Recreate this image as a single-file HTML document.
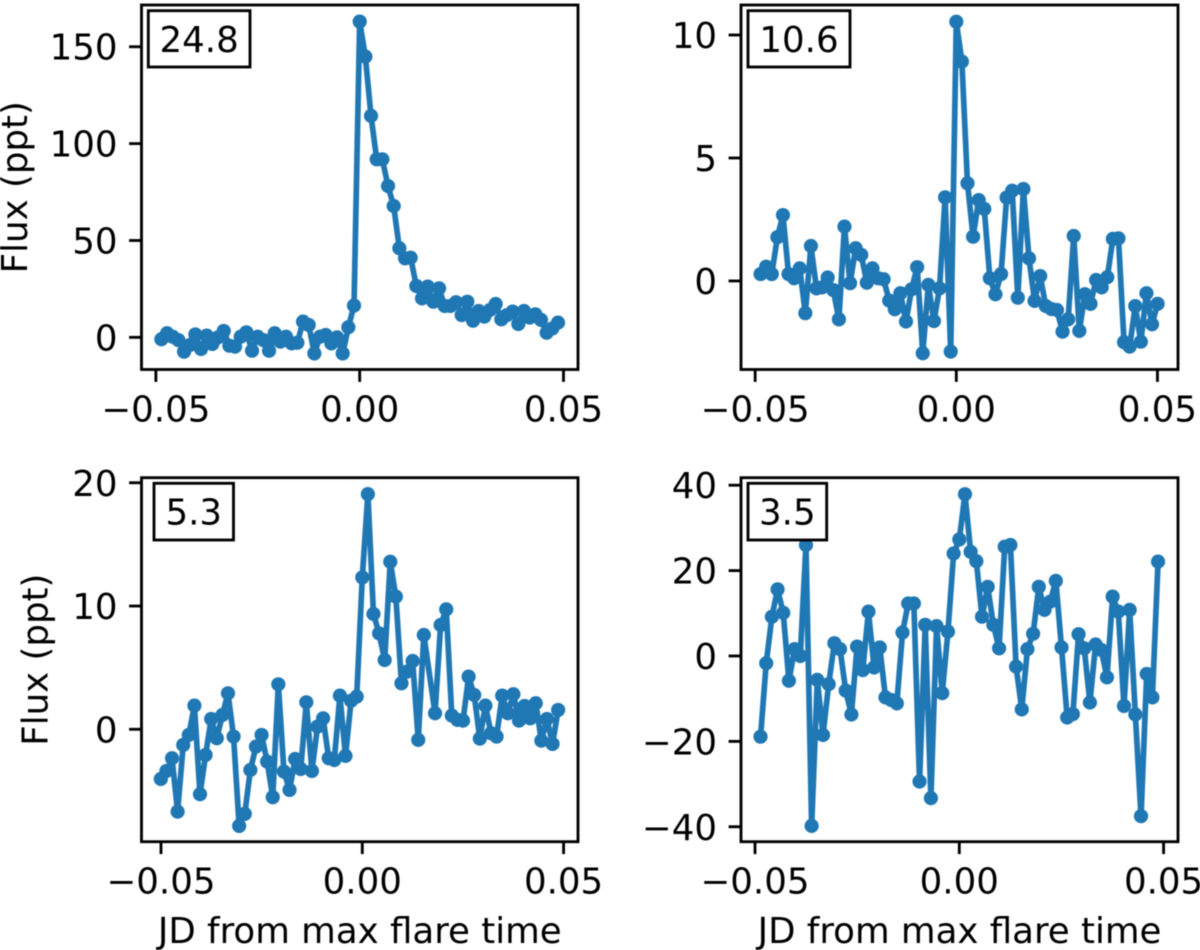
<!DOCTYPE html>
<html>
<head>
<meta charset="utf-8">
<title>Flare light curves</title>
<style>
html,body{margin:0;padding:0;background:#fff;}
svg{display:block;filter:blur(0.45px);}
text{font-family:"DejaVu Sans","Liberation Sans",sans-serif;font-size:35.6px;fill:#000;}
</style>
</head>
<body>
<svg id="figure" xmlns="http://www.w3.org/2000/svg" width="1200" height="950" viewBox="0 0 1200 950"></svg>
<script>
const timesA = [-0.04865,-0.04726,-0.04587,-0.04448,-0.04309,-0.0417,-0.04031,-0.03892,-0.03753,-0.03614,-0.03475,-0.03336,-0.03197,-0.03058,-0.02919,-0.0278,-0.02641,-0.02502,-0.02363,-0.02224,-0.02085,-0.01946,-0.01807,-0.01668,-0.01529,-0.0139,-0.01251,-0.01112,-0.00973,-0.00834,-0.00695,-0.00556,-0.00417,-0.00278,-0.00139,0,0.00139,0.00278,0.00417,0.00556,0.00695,0.00834,0.00973,0.01112,0.01251,0.0139,0.01529,0.01668,0.01807,0.01946,0.02085,0.02224,0.02363,0.02502,0.02641,0.0278,0.02919,0.03058,0.03197,0.03336,0.03475,0.03614,0.03753,0.03892,0.04031,0.0417,0.04309,0.04448,0.04587,0.04726,0.04865];
const fluxA = [-1.0,2.1,0.3,-1.4,-7.4,-4,1.5,-6,0.9,-3.4,0,3.3,-4.3,-4.8,0.3,2.6,-6.9,0.3,-1.4,-6.9,2.1,-2.2,0.3,-3.1,-2.8,8.1,6.4,-8.3,0.3,1.2,-3.1,0,-8.3,5.2,16.4,163,144.9,114.3,91.9,91.9,78.1,67.8,46,40.8,41.1,26.5,20.1,26.2,18.4,25.3,16.2,16.2,18.1,11.5,18.4,8.6,13.6,10.7,14.1,17.2,9.3,11.5,13.3,6.9,13.6,10.2,11.9,9,2.4,4.6,7.6];

const timesB = [-0.04865,-0.04726,-0.04587,-0.04448,-0.04309,-0.0417,-0.04031,-0.03892,-0.03753,-0.03614,-0.03475,-0.03336,-0.03197,-0.03058,-0.02919,-0.0278,-0.02641,-0.02502,-0.02363,-0.02224,-0.02085,-0.01946,-0.01807,-0.01668,-0.01529,-0.0139,-0.01251,-0.01112,-0.00973,-0.00834,-0.00695,-0.00556,-0.00417,-0.00278,-0.00139,0,0.00139,0.00278,0.00417,0.00556,0.00695,0.00834,0.00973,0.01112,0.01251,0.0139,0.01529,0.01668,0.01807,0.01946,0.02085,0.02224,0.02363,0.02502,0.02641,0.0278,0.02919,0.03058,0.03197,0.03336,0.03475,0.03614,0.03753,0.03892,0.04031,0.0417,0.04309,0.04448,0.04587,0.04726,0.04865,0.05004];
const fluxB = [0.28,0.58,0.28,1.78,2.68,0.28,0.11,0.51,-1.31,1.42,-0.3,-0.26,0.14,-0.37,-1.56,2.21,-0.09,1.33,1.06,-0.07,0.51,0.11,0.07,-0.8,-1.15,-0.5,-1.65,-0.34,0.56,-2.94,-0.16,-1.63,-0.3,3.4,-2.87,10.54,8.92,3.97,1.8,3.29,2.93,0.11,-0.54,0.28,3.39,3.67,-0.68,3.74,0.92,-0.81,0.2,-1.02,-1.14,-1.18,-2.06,-1.56,1.83,-2.03,-0.54,-0.93,0.04,-0.26,0.15,1.71,1.73,-2.49,-2.67,-1.02,-2.47,-0.5,-1.76,-0.93];

const timesC = [-0.05004,-0.04865,-0.04726,-0.04587,-0.04448,-0.04309,-0.0417,-0.04031,-0.03892,-0.03753,-0.03614,-0.03475,-0.03336,-0.03197,-0.03058,-0.02919,-0.0278,-0.02641,-0.02502,-0.02363,-0.02224,-0.02085,-0.01946,-0.01807,-0.01668,-0.01529,-0.0139,-0.01251,-0.01112,-0.00973,-0.00834,-0.00695,-0.00556,-0.00417,-0.00278,-0.00139,0,0.00139,0.00278,0.00417,0.00556,0.00695,0.00834,0.00973,0.01112,0.01251,0.0139,0.01529,0.01807,0.01946,0.02085,0.02224,0.02363,0.02502,0.02641,0.0278,0.02919,0.03058,0.03197,0.03336,0.03475,0.03614,0.03753,0.03892,0.04031,0.0417,0.04309,0.04448,0.04587,0.04726,0.04865];
const fluxC = [-4.03,-3.38,-2.35,-6.68,-1.27,-0.46,1.92,-5.27,-2.08,0.84,-0.73,1.16,2.92,-0.59,-7.84,-6.86,-3.3,-1.41,-0.46,-2.62,-5.51,3.65,-3.43,-4.92,-2.41,-3.22,2.19,-3.38,0.22,0.89,-2.35,-2.49,2.73,-2.16,2.32,2.65,12.32,19.08,9.35,7.78,5.62,13.59,10.76,3.73,4.68,5.54,-0.86,7.65,1.3,8.46,9.73,1.11,0.76,0.7,4.27,2.78,-0.76,1.92,-0.32,-0.59,2.73,1.3,2.84,0.7,1.89,0.89,2.11,-0.92,0.84,-1.19,1.57];

const timesD = [-0.04865,-0.04726,-0.04587,-0.04448,-0.04309,-0.0417,-0.04031,-0.03892,-0.03753,-0.03614,-0.03475,-0.03336,-0.03197,-0.03058,-0.02919,-0.0278,-0.02641,-0.02502,-0.02363,-0.02224,-0.02085,-0.01946,-0.01807,-0.01668,-0.01529,-0.0139,-0.01251,-0.01112,-0.00973,-0.00834,-0.00695,-0.00556,-0.00417,-0.00278,-0.00139,0,0.00139,0.00278,0.00417,0.00556,0.00695,0.00834,0.00973,0.01112,0.01251,0.0139,0.01529,0.01668,0.01807,0.01946,0.02085,0.02224,0.02363,0.02502,0.02641,0.0278,0.02919,0.03058,0.03197,0.03336,0.03475,0.03614,0.03753,0.03892,0.04031,0.0417,0.04309,0.04448,0.04587,0.04726,0.04865];
const fluxD = [-18.9,-1.7,9.2,15.6,10.1,-5.8,1.6,0,26,-39.8,-5.6,-18.5,-6.6,3,1.6,-8.1,-13.7,2.2,-3.3,10.4,-2.7,2,-9.7,-10.3,-11.1,5.5,12.3,12.3,-29.4,7.3,-33.3,7,-8.7,5.7,24,27.3,37.9,24.4,22.2,9.2,16.2,7.3,1.8,25.6,26,-2.5,-12.5,1.6,5.2,16.2,10.8,12.7,17.6,2,-14.4,-13.6,5.1,1.8,-10.9,2.7,1.4,-5,13.9,10.4,-11.7,10.8,-13.7,-37.5,-4.2,-9.7,22.1];

const xTickValues = [-0.05,0,0.05];
const xTickLabels = ['\u22120.05','0.00','0.05'];
const yTicksA = [0,50,100,150];
const yLabelsA = ['0','50','100','150'];
const yTicksB = [0,5,10];
const yLabelsB = ['0','5','10'];
const yTicksC = [0,10,20];
const yLabelsC = ['0','10','20'];
const yTicksD = [-40,-20,0,20,40];
const yLabelsD = ['\u221240','\u221220','0','20','40'];

const panelA = {id:'a',left:141.5,right:578,top:5,bottom:369.5,xMin:-0.05353,xMax:0.05356,yMin:-16.6,yMax:171.55,
  t:timesA,f:fluxA,yt:yTicksA,yl:yLabelsA,note:'24.8',box:[148.3,10.7,101.7,56.3],yTitleX:27,xTitle:false};
const panelB = {id:'b',left:741,right:1178,top:5,bottom:369.5,xMin:-0.05352,xMax:0.05511,yMin:-3.6,yMax:11.22,
  t:timesB,f:fluxB,yt:yTicksB,yl:yLabelsB,note:'10.6',box:[748,10.7,102,56.3],yTitleX:null,xTitle:false};
const panelC = {id:'c',left:141.5,right:578,top:477.7,bottom:841.7,xMin:-0.05484,xMax:0.05358,yMin:-9.12,yMax:20.41,
  t:timesC,f:fluxC,yt:yTicksC,yl:yLabelsC,note:'5.3',box:[154,483.3,79.5,56.7],yTitleX:47.5,xTitle:true};
const panelD = {id:'d',left:741,right:1178,top:477.7,bottom:841.7,xMin:-0.05343,xMax:0.05353,yMin:-43.5,yMax:41.76,
  t:timesD,f:fluxD,yt:yTicksD,yl:yLabelsD,note:'3.5',box:[748,483.3,78.7,56.7],yTitleX:null,xTitle:true};

const SVG_NS = 'http://www.w3.org/2000/svg';
const figure = document.getElementById('figure');
const BLUE = '#1f77b4';

function make(tag, attrs, parent) {
  const el = document.createElementNS(SVG_NS, tag);
  for (const k in attrs) el.setAttribute(k, attrs[k]);
  parent.appendChild(el);
  return el;
}

function drawPanel(p) {
  const xs = v => p.left + (v - p.xMin) / (p.xMax - p.xMin) * (p.right - p.left);
  const ys = v => p.bottom - (v - p.yMin) / (p.yMax - p.yMin) * (p.bottom - p.top);

  const group = make('g', {}, figure);
  
  

  const points = p.t.map((t, i) => xs(t).toFixed(2) + ',' + ys(p.f[i]).toFixed(2)).join(' ');
  const line = make('polyline', {points: points, fill: 'none', stroke: BLUE, 'stroke-width': 5.7, 'stroke-linejoin': 'round'}, group);
  
  

  p.t.forEach((t, i) => {
    const dot = make('circle', {cx: xs(t).toFixed(2), cy: ys(p.f[i]).toFixed(2), r: 7.1, fill: BLUE}, group);
    
    
  });

  const frame = make('rect', {x: p.left, y: p.top, width: p.right - p.left, height: p.bottom - p.top, fill: 'none', stroke: '#000', 'stroke-width': 2.84}, group);
  
  

  xTickValues.forEach((v, i) => {
    const x = xs(v);
    const tick = make('line', {x1: x, x2: x, y1: p.bottom, y2: p.bottom + 12.4, stroke: '#000', 'stroke-width': 2.84}, group);
    
    
    const label = make('text', {x: x, y: p.bottom + 52, 'text-anchor': 'middle'}, group);
    label.textContent = xTickLabels[i];
    
    
  });

  p.yt.forEach((v, i) => {
    const y = ys(v);
    const tick = make('line', {x1: p.left - 12.4, x2: p.left, y1: y, y2: y, stroke: '#000', 'stroke-width': 2.84}, group);
    
    
    const label = make('text', {x: p.left - 24, y: y + 13, 'text-anchor': 'end'}, group);
    label.textContent = p.yl[i];
    
    
  });

  const box = make('rect', {x: p.box[0], y: p.box[1], width: p.box[2], height: p.box[3], fill: '#fff', stroke: '#000', 'stroke-width': 2.84}, group);
  
  
  const note = make('text', {x: p.box[0] + p.box[2] / 2, y: p.box[1] + p.box[3] / 2 + 13, 'text-anchor': 'middle'}, group);
  note.textContent = p.note;
  
  

  if (p.yTitleX !== null) {
    const cy = (p.top + p.bottom) / 2;
    const title = make('text', {x: p.yTitleX, y: cy, 'text-anchor': 'middle', transform: 'rotate(-90 ' + p.yTitleX + ' ' + cy + ')'}, group);
    title.textContent = 'Flux (ppt)';
    
    
  }
  if (p.xTitle) {
    const title = make('text', {x: (p.left + p.right) / 2, y: 943, 'text-anchor': 'middle'}, group);
    title.textContent = 'JD from max flare time';
    
    
  }
}

[panelA, panelB, panelC, panelD].forEach(drawPanel);
</script>
</body>
</html>
